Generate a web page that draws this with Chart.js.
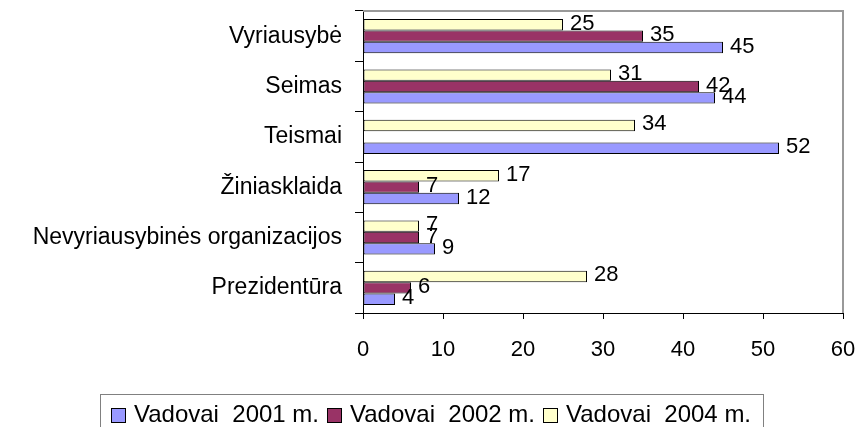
<!DOCTYPE html>
<html>
<head>
<meta charset="utf-8">
<script src="https://cdn.jsdelivr.net/npm/chart.js@4"></script>
<style>
  body { margin: 0; background: #fff; overflow: hidden; }
  #wrap { position: relative; width: 859px; height: 427px; }
  #legend {
    position: absolute; left: 100px; top: 394px; width: 664px; height: 40px;
    border: 1px solid #808080; box-sizing: border-box;
    font-family: "Liberation Sans", Arial, sans-serif; font-size: 24px; line-height: 28px;
    padding: 5px 0 0 10px; white-space: pre; color: #000;
  }
  .item { display: inline-block; margin-right: 8px; }
  .swatch { display: inline-block; width: 13px; height: 13px; border: 1px solid #000; margin-right: 8px; vertical-align: -1px; }
</style>
</head>
<body>
<div id="wrap">
  <canvas id="chart" width="859" height="427"></canvas>
  <div id="legend"></div>
</div>
<script>
const categories = ["Vyriausybė", "Seimas", "Teismai", "Žiniasklaida", "Nevyriausybinės organizacijos", "Prezidentūra"];
const vadovai2001 = [45, 44, 52, 12, 9, 4];
const vadovai2002 = [35, 42, null, 7, 7, 6];
const vadovai2004 = [25, 31, 34, 17, 7, 28];
const seriesLabels = ["Vadovai  2001 m.", "Vadovai  2002 m.", "Vadovai  2004 m."];
const seriesColors = ["#9999FF", "#993366", "#FFFFCC"];
const xMin = 0;
const xMax = 60;
const xStep = 10;

const font = "'Liberation Sans', Arial, sans-serif";

// 2004 sits on top of each group, 2001 at the bottom
const series = [vadovai2001, vadovai2002, vadovai2004];
const datasets = [2, 1, 0].map((i) => ({
  label: seriesLabels[i],
  data: series[i],
  backgroundColor: seriesColors[i],
  borderColor: "#000000",
  borderWidth: 1,
  borderSkipped: false,
  categoryPercentage: 0.68,
  barPercentage: 1,
}));

const valueLabels = {
  id: "valueLabels",
  afterDatasetsDraw(chart) {
    const ctx = chart.ctx;
    ctx.save();
    ctx.font = "22px " + font;
    ctx.fillStyle = "#000";
    ctx.textAlign = "left";
    ctx.textBaseline = "middle";
    chart.data.datasets.forEach((ds, di) => {
      chart.getDatasetMeta(di).data.forEach((bar, i) => {
        const v = ds.data[i];
        if (v === null) return;
        ctx.fillText(String(v), bar.x + 7, bar.y - 1);
      });
    });
    ctx.restore();
  },
};

const plotFrame = {
  id: "plotFrame",
  beforeDatasetsDraw(chart) {
    const { ctx, chartArea: a } = chart;
    ctx.save();
    ctx.strokeStyle = "#999999";
    ctx.lineWidth = 2;
    ctx.beginPath();
    ctx.moveTo(a.left, a.top);
    ctx.lineTo(a.right, a.top);
    ctx.lineTo(a.right, a.bottom);
    ctx.stroke();
    ctx.restore();
  },
};

new Chart(document.getElementById("chart"), {
  type: "bar",
  data: { labels: categories, datasets: datasets },
  options: {
    indexAxis: "y",
    responsive: false,
    animation: false,
    layout: { padding: { top: 11, right: 16, bottom: 0, left: 0 } },
    plugins: { legend: { display: false }, tooltip: { enabled: false } },
    scales: {
      x: {
        min: xMin,
        max: xMax,
        afterFit: (scale) => {
          scale.height = 114;
          scale.paddingLeft = 0;
          scale.paddingRight = 0;
        },
        ticks: { stepSize: xStep, color: "#000", padding: 18, font: { family: font, size: 22 } },
        grid: { drawOnChartArea: false, tickLength: 6, color: "#000", tickColor: "#000" },
        border: { color: "#000", width: 1 },
      },
      y: {
        afterFit: (scale) => {
          scale.width = 363;
          scale.paddingTop = 0;
          scale.paddingBottom = 0;
        },
        ticks: { color: "#000", padding: 13, font: { family: font, size: 23 } },
        grid: { drawOnChartArea: false, tickLength: 8, offset: true, color: "#000", tickColor: "#000" },
        border: { color: "#000", width: 1 },
      },
    },
  },
  plugins: [plotFrame, valueLabels],
});

const legend = document.getElementById("legend");
seriesLabels.forEach((label, i) => {
  const item = document.createElement("span");
  item.className = "item";
  item.innerHTML = `<span class="swatch" style="background:${seriesColors[i]}"></span>${label}`;
  legend.appendChild(item);
});
</script>
</body>
</html>
